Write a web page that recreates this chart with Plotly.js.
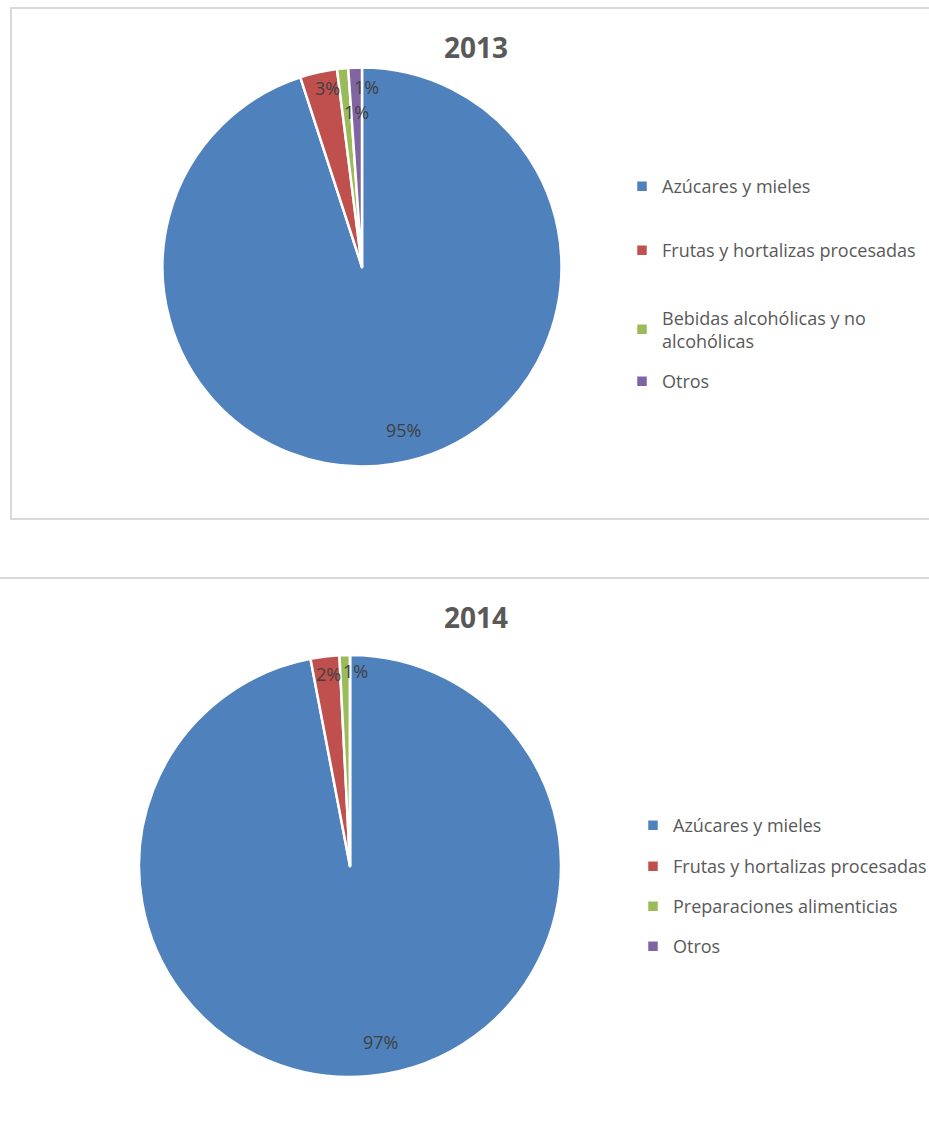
<!DOCTYPE html>
<html>
<head>
<meta charset="utf-8">
<script src="https://cdn.plot.ly/plotly-3.0.1.min.js"></script>
<style>
html,body{margin:0;padding:0;background:#fff;overflow:hidden;}
#top{position:absolute;left:0;top:0;width:929px;height:560px;}
#bottom{position:absolute;left:0;top:560px;width:929px;height:563px;}
</style>
</head>
<body>
<div id="top"></div>
<div id="bottom"></div>
<script>
// ---- data ----
const labels2013 = ["Azúcares y mieles", "Frutas y hortalizas procesadas", "Bebidas alcohólicas y no<br>alcohólicas", "Otros"];
const values2013 = [95.0, 3.0, 0.9, 1.1];
const labels2014 = ["Azúcares y mieles", "Frutas y hortalizas procesadas", "Preparaciones alimenticias", "Otros"];
const values2014 = [97.0, 2.2, 0.8, 0];
const colors = ["#4F81BD", "#C0504D", "#9BBB59", "#8064A2"];
const titles = ["2013", "2014"];

// ---- style / layout constants ----
const W = 929;
const FONT = "'Open Sans', sans-serif";
const LABEL_COLOR = "#404040";

function buildChart(divId, H, cfg) {
  const px = x => x / W;
  const py = y => 1 - y / H;
  const values = cfg.values;
  const total = values.reduce((a, b) => a + b, 0);
  const cx = cfg.cx, cy = cfg.cy, r = cfg.r, rd = cfg.r + cfg.rPad;

  const trace = {
    type: "pie",
    labels: cfg.labels,
    values: values,
    sort: false,
    direction: "clockwise",
    rotation: 0,
    marker: {colors: colors, line: {color: "#ffffff", width: 2.5}},
    textinfo: "none",
    domain: {x: [px(cx - rd), px(cx + rd)], y: [py(cy + rd), py(cy - rd)]},
    hoverinfo: "label+percent",
    showlegend: true
  };

  // percentage labels placed at each slice's mid-angle (computed from the data)
  const annotations = [];
  let cum = 0;
  values.forEach((v, i) => {
    const start = cum;
    cum += v;
    if (v <= 0) return;
    const mid = (start + v / 2) / total * 2 * Math.PI;
    const rr = r * cfg.labelRadius[i];
    const lx = cx + rr * Math.sin(mid) + cfg.labelDx[i];
    const ly = cy - rr * Math.cos(mid) + cfg.labelDy[i];
    annotations.push({
      text: Math.round(v / total * 100) + "%",
      x: px(lx), y: py(ly), xref: "paper", yref: "paper",
      showarrow: false, xanchor: "center", yanchor: "middle",
      font: {family: FONT, size: 18, color: LABEL_COLOR}
    });
  });
  annotations.push({
    text: "<b>" + cfg.title + "</b>", x: px(476), y: py(cfg.titleY), xref: "paper", yref: "paper",
    showarrow: false, font: {family: FONT, size: 28, color: "#595959"}, xanchor: "center", yanchor: "middle"
  });

  cfg.box.xref = "paper"; cfg.box.yref = "paper";
  cfg.box.x0 = px(cfg.boxPx[0]); cfg.box.x1 = px(cfg.boxPx[2]);
  cfg.box.y0 = py(cfg.boxPx[3]); cfg.box.y1 = py(cfg.boxPx[1]);

  const layout = {
    width: W, height: H,
    margin: {l: 0, r: 0, t: 0, b: 0, autoexpand: false},
    paper_bgcolor: "#ffffff",
    showlegend: true,
    legend: {
      font: {family: FONT, size: 18, color: "#595959"},
      bgcolor: "rgba(0,0,0,0)",
      xref: "container", yref: "container",
      x: px(cfg.legendX), y: py(cfg.legendY),
      xanchor: "left", yanchor: "top",
      traceorder: "normal", itemclick: false, itemdoubleclick: false
    },
    annotations: annotations,
    shapes: [cfg.box]
  };

  return Plotly.newPlot(divId, [trace], layout, {displayModeBar: false, staticPlot: true}).then(gd => {
    // spread legend entries to match the original spacing
    const items = gd.querySelectorAll(".legend .traces");
    if (!items.length) return;
    const m = /translate\(([-\d.]+)[ ,]+([-\d.]+)\)/.exec(items[0].getAttribute("transform") || "");
    if (!m) return;
    const x0 = parseFloat(m[1]), y0 = parseFloat(m[2]);
    items.forEach((t, i) => {
      if (i < cfg.legendCenters.length)
        t.setAttribute("transform", "translate(" + x0 + "," + (y0 + cfg.legendCenters[i] - cfg.legendCenters[0]) + ")");
    });
    gd.querySelectorAll(".legend .scrollbox").forEach(s => s.removeAttribute("clip-path"));
    gd.querySelectorAll(".legend").forEach(s => s.removeAttribute("clip-path"));
  });
}

buildChart("top", 560, {
  labels: labels2013, values: values2013, title: titles[0], titleY: 47,
  cx: 362, cy: 267, r: 199.5, rPad: 0,
  labelRadius: [0.84, 0.91, 0.78, 0.9],
  labelDx: [15, 5, 10, 11], labelDy: [-3, -2, 0, -1],
  legendX: 622, legendY: 168, legendCenters: [185, 249, 328, 380],
  box: {type: "rect", line: {color: "#D9D9D9", width: 2}, fillcolor: "rgba(0,0,0,0)"},
  boxPx: [11, 8, 945, 519]
});

buildChart("bottom", 563, {
  labels: labels2014, values: values2014, title: titles[1], titleY: 57,
  cx: 350, cy: 306, r: 211, rPad: 0,
  labelRadius: [0.85, 0.92, 0.92, 0.9],
  labelDx: [14, 2, 10, 0], labelDy: [-3, 1, -1, 0],
  legendX: 633, legendY: 247, legendCenters: [264, 305, 345, 385],
  box: {type: "rect", line: {color: "#D9D9D9", width: 2}, fillcolor: "rgba(0,0,0,0)"},
  boxPx: [-20, 18, 945, 600]
});
</script>
</body>
</html>
